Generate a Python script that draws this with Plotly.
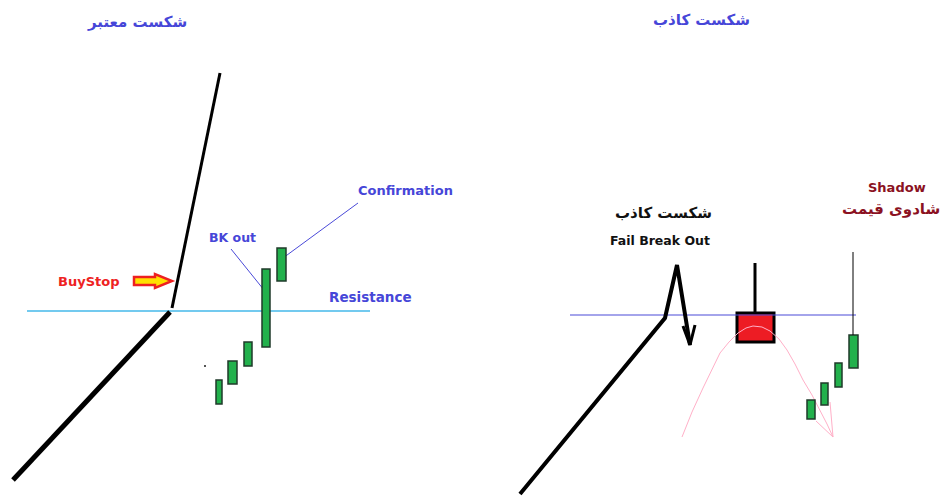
import plotly.graph_objects as go

W, H = 944, 496

# ---- data (pixel-space diagram coordinates) ----
# left panel: valid breakout
left_trend_x = [13, 170]
left_trend_y = [480, 312]
left_rally_x = [172, 220]
left_rally_y = [308, 73]
left_res_x = [27, 370]
left_res_y = [311, 311]
left_candle_x0 = [216, 228, 244, 262, 277]
left_candle_x1 = [222, 237, 252, 270, 286]
left_candle_top = [380, 361, 342, 269, 248]
left_candle_bot = [404, 384, 366, 347, 281]

# right panel: false breakout
right_trend_x = [520, 665, 677, 690]
right_trend_y = [494, 318, 265, 345]
right_res_x = [570, 856]
right_res_y = [315, 315]
red_body = [737, 774, 313, 342]   # x0, x1, top, bottom
red_wick = [755, 263, 313]        # x, top, bottom
right_candle_x0 = [807, 821, 835, 849]
right_candle_x1 = [815, 828, 842, 858]
right_candle_top = [400, 383, 363, 335]
right_candle_bot = [419, 405, 387, 368]
shadow_wick = [853, 252, 335]
arc_x = [682, 692, 703, 712, 720, 729, 738, 746, 753, 762, 770, 779, 787, 795, 803, 812, 820, 827, 833]
arc_y = [437, 412, 388, 369, 353, 342, 333, 328, 326, 327, 331, 339, 350, 364, 380, 395, 410, 424, 437]

fig = go.Figure()

def line(xs, ys, color, width):
    fig.add_trace(go.Scatter(x=xs, y=ys, mode="lines",
                             line=dict(color=color, width=width),
                             hoverinfo="skip", showlegend=False))

line(left_res_x, left_res_y, "#45b8ea", 1.5)
line(left_trend_x, left_trend_y, "black", 5)
line(left_rally_x, left_rally_y, "black", 3)
line(right_res_x, right_res_y, "#4a4ad8", 1.2)
line(arc_x, arc_y, "#ffb0c8", 1)
line([830, 833], [402, 437], "#ffb0c8", 1)
line([816, 833], [421, 437], "#ffb0c8", 1)
line(right_trend_x, right_trend_y, "black", 4)
line([683, 690, 695], [326, 345, 325], "black", 3)
# leader lines
line([231, 264], [249, 290], "#4a4ad8", 1)
line([358, 283], [203, 258], "#4a4ad8", 1)

shapes = []
for x0, x1, t, b in zip(left_candle_x0 + right_candle_x0,
                        left_candle_x1 + right_candle_x1,
                        left_candle_top + right_candle_top,
                        left_candle_bot + right_candle_bot):
    shapes.append(dict(type="rect", xref="x", yref="y", x0=x0, x1=x1, y0=t, y1=b,
                       fillcolor="#22b14c", line=dict(color="#1f3a2a", width=1.5)))
# red candle (below traces so the pink arc shows over it)
shapes.append(dict(type="line", xref="x", yref="y", x0=red_wick[0], x1=red_wick[0],
                   y0=red_wick[1], y1=red_wick[2], line=dict(color="black", width=3),
                   layer="below"))
shapes.append(dict(type="rect", xref="x", yref="y", x0=red_body[0], x1=red_body[1],
                   y0=red_body[2], y1=red_body[3], fillcolor="#ed1c24",
                   line=dict(color="black", width=3), layer="below"))
# shadow wick
shapes.append(dict(type="line", xref="x", yref="y", x0=shadow_wick[0], x1=shadow_wick[0],
                   y0=shadow_wick[1], y1=shadow_wick[2], line=dict(color="black", width=1)))
# BuyStop block arrow
shapes.append(dict(type="path", xref="x", yref="y",
                   path="M 134 277 L 155 277 L 155 274 L 172 281 L 155 288 L 155 285 L 134 285 Z",
                   fillcolor="#ffe000", line=dict(color="#ee2020", width=2.5)))
# tiny dot
shapes.append(dict(type="rect", xref="x", yref="y", x0=204, x1=206, y0=365, y1=367,
                   fillcolor="#555", line=dict(width=0)))

fig.update_layout(shapes=shapes)

font_f = "DejaVu Sans, Tahoma, sans-serif"
def txt(x, y, s, color, size=13, bold=True, xanchor="center"):
    fig.add_annotation(x=x, y=y, xref="x", yref="y", text=f"<b>{s}</b>" if bold else s,
                       showarrow=False, font=dict(family=font_f, size=size, color=color),
                       xanchor=xanchor, yanchor="middle")

blue = "#4646d8"
txt(137, 22, "شکست معتبر", blue, 15)
txt(701, 20, "شکست کاذب", blue, 15)
txt(121, 281, "BuyStop", "#ee2222", 13, xanchor="right")
txt(232, 237, "BK out", blue, 12.5)
txt(405, 190, "Confirmation", blue, 13)
txt(370, 297, "Resistance", blue, 13.5)
txt(663, 213, "شکست کاذب", "#111111", 15)
txt(660, 240, "Fail Break Out", "#111111", 12.5)
txt(897, 187, "Shadow", "#8b1122", 13)
txt(942, 209, "شادوی قیمت", "#8b1122", 15, xanchor="right")

fig.update_xaxes(range=[0, W], visible=False, fixedrange=True)
fig.update_yaxes(range=[H, 0], visible=False, fixedrange=True)
fig.update_layout(width=W, height=H, margin=dict(l=0, r=0, t=0, b=0),
                  plot_bgcolor="white", paper_bgcolor="white", showlegend=False)

fig.write_html("out.html", config={"displayModeBar": False},
               post_script="document.body.style.margin='0';document.body.style.overflow='hidden';")
